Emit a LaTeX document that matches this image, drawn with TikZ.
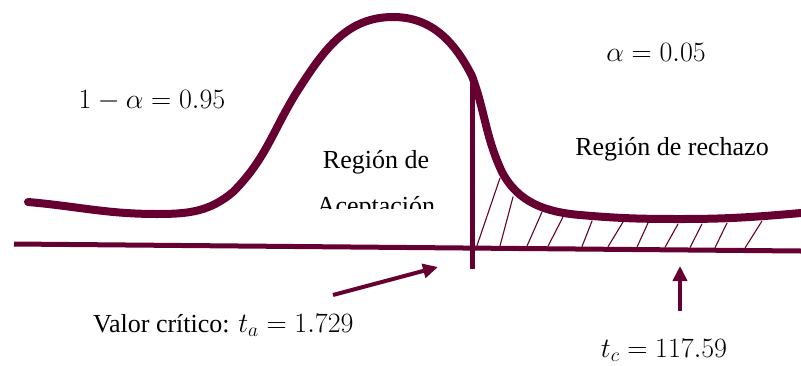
\documentclass[tikz,border=0pt]{standalone}
\usepackage{fix-cm}
\usepackage{fontspec}
\setmainfont{Liberation Serif}
\usepackage{xcolor}
\definecolor{curvemaroon}{HTML}{650030}
\usetikzlibrary{arrows.meta}

\begin{document}
\begin{tikzpicture}[x=1pt,y=-1pt,line cap=round,
  txt/.style={font=\fontsize{26}{30}\selectfont,inner sep=0pt},
  mtxt/.style={font=\fontsize{28}{32}\selectfont,inner sep=0pt},
  density/.style={line width=8pt,curvemaroon},
  axisline/.style={line width=5pt,curvemaroon,line cap=butt},
  hatch/.style={line width=1.1pt,curvemaroon},
  pointer/.style={line width=4pt,curvemaroon,line cap=butt,
                  -{Triangle[length=15pt,width=14pt]}}]

  \useasboundingbox (0,0) rectangle (801,365);

  % horizontal axis and critical value
  \coordinate (axl) at (14,244);
  \coordinate (axr) at (801,251);
  \draw[axisline] (axl) -- (axr);
  \coordinate (crtop) at (472,76);
  \coordinate (crbot) at (472,269);
  \draw[axisline] (crtop) -- (crbot);

  % rejection area hatching
  \foreach \bx/\tx/\ty in {477/500/178, 500/513/197, 527/542/212, 548/563/217,
                          582/592/221, 608/623/222, 637/648/223, 665/678/224,
                          690/702/224, 715/727/223, 745/762/221}
    \draw[hatch] (\bx,{244+(\bx-14)*7/787-2.5}) -- (\tx,\ty);

  % density curve (angles as seen on the page)
  \draw[density] (28,202) to[out=-5,in=180] (157,214)
    to[out=0,in=220] (233,192) to[out=45,in=237] (300,87)
    to[out=57,in=180] (393,17) to[out=0,in=117] (crtop)
    to[out=-70,in=115] (502,172) to[out=-62,in=175] (580,215)
    to[out=-5,in=180] (680,219) to[out=0,in=185] (801,213);

  % labels
  \node[mtxt] (conf)  at (152,101) {$1-\alpha=0.95$};
  \node[mtxt] (alpha) at (656,52)  {$\alpha=0.05$};
  \node[txt,anchor=base] (acc1) at (376,168) {Región de};
  \begin{scope}
    \clip (300,185) rectangle (460,208);
    \node[txt,anchor=base] (acc2) at (376,214) {Aceptación};
  \end{scope}
  \node[txt,anchor=base] (rej) at (672,155) {Región de rechazo};
  \node[txt,anchor=base west] (tcrit) at (93,332)
    {Valor crítico: {\fontsize{28}{32}\selectfont$t_a=1.729$}};
  \node[mtxt,anchor=base] (tcalc) at (664,357) {$t_c=117.59$};

  % arrows
  \coordinate (p1s) at (333,295);
  \coordinate (p1e) at (438,267);
  \draw[pointer] (p1s) -- (p1e);
  \coordinate (p2s) at (680,311);
  \coordinate (p2e) at (680,266);
  \draw[pointer] (p2s) -- (p2e);
\end{tikzpicture}
\end{document}
